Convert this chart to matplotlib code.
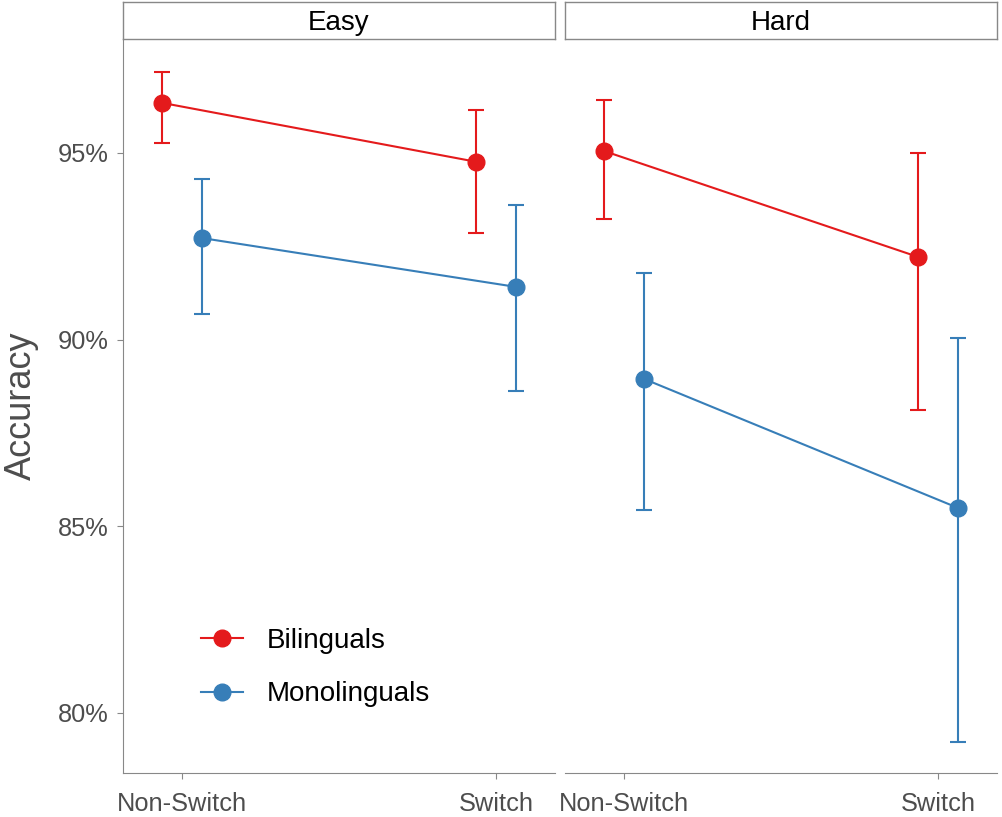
import matplotlib.pyplot as plt
import numpy as np
from matplotlib.lines import Line2D

plt.rcParams['font.family'] = ['Liberation Sans', 'DejaVu Sans']

# Data (accuracy in %)
conditions = ['Non-Switch', 'Switch']
panels = ['Easy', 'Hard']
groups = ['Bilinguals', 'Monolinguals']
colors = {'Bilinguals': '#E41A1C', 'Monolinguals': '#377EB8'}

easy_bil = [96.34, 94.76]
easy_bil_lo = [95.27, 92.86]
easy_bil_hi = [97.17, 96.15]
easy_mono = [92.72, 91.41]
easy_mono_lo = [90.69, 88.61]
easy_mono_hi = [94.30, 93.61]

hard_bil = [95.05, 92.21]
hard_bil_lo = [93.23, 88.12]
hard_bil_hi = [96.42, 95.00]
hard_mono = [88.95, 85.49]
hard_mono_lo = [85.44, 79.22]
hard_mono_hi = [91.79, 90.05]

data = {
    'Easy': {'Bilinguals': (easy_bil, easy_bil_lo, easy_bil_hi),
             'Monolinguals': (easy_mono, easy_mono_lo, easy_mono_hi)},
    'Hard': {'Bilinguals': (hard_bil, hard_bil_lo, hard_bil_hi),
             'Monolinguals': (hard_mono, hard_mono_lo, hard_mono_hi)},
}

fig = plt.figure(figsize=(10.02, 8.17), dpi=100)
W, H = 1002, 817
ax_left = [123, 565]
ax_w = 432
ax_top, ax_bot = 39, 773
dodge = 0.063
grey = '#4d4d4d'

axes = []
for i, panel in enumerate(panels):
    ax = fig.add_axes([ax_left[i] / W, 1 - ax_bot / H, ax_w / W, (ax_bot - ax_top) / H])
    axes.append(ax)
    x = np.arange(1, len(conditions) + 1)
    for j, g in enumerate(groups):
        m, lo, hi = data[panel][g]
        m = np.array(m); lo = np.array(lo); hi = np.array(hi)
        xs = x + (-dodge if j == 0 else dodge)
        ax.errorbar(xs, m, yerr=[m - lo, hi - m], fmt='none', ecolor=colors[g],
                    elinewidth=1.5, capsize=6, capthick=1.5, zorder=2)
        ax.plot(xs, m, color=colors[g], lw=1.5, marker='o', ms=12, zorder=3)
    ax.set_xlim(0.813, 2.187)
    ax.set_ylim(78.39, 98.05)
    ax.set_xticks(x)
    ax.set_xticklabels(conditions, fontsize=18.3, color=grey)
    ax.set_yticks([80, 85, 90, 95])
    ax.set_yticklabels(['80%', '85%', '90%', '95%'], fontsize=18.3, color=grey)
    ax.tick_params(length=4, width=0.8, color='#888888', pad=6)
    ax.tick_params(axis='x', pad=10)
    for s in ['top', 'right']:
        ax.spines[s].set_visible(False)
    ax.spines['bottom'].set_color('#888888')
    ax.spines['left'].set_color('#888888')
    if i == 1:
        ax.spines['left'].set_visible(False)
        ax.tick_params(axis='y', left=False, labelleft=False)

    # facet strip
    strip = fig.add_axes([ax_left[i] / W, 1 - ax_top / H, ax_w / W, 37 / H])
    strip.set_xticks([]); strip.set_yticks([])
    for s in strip.spines.values():
        s.set_color('#888888')
        s.set_linewidth(1.0)
    strip.text(0.5, 0.42, panel, ha='center', va='center', fontsize=20, color='black')

axes[0].set_ylabel('Accuracy', fontsize=26, color=grey, labelpad=14)

handles = [Line2D([], [], color=colors[g], lw=1.5, marker='o', ms=12) for g in groups]
axes[0].legend(handles, groups, loc='upper left', bbox_to_anchor=(0.123, 0.232),
               frameon=False, fontsize=20, handlelength=1.5, labelspacing=1.0,
               handletextpad=0.85)

fig.savefig('out.png', dpi=100)
